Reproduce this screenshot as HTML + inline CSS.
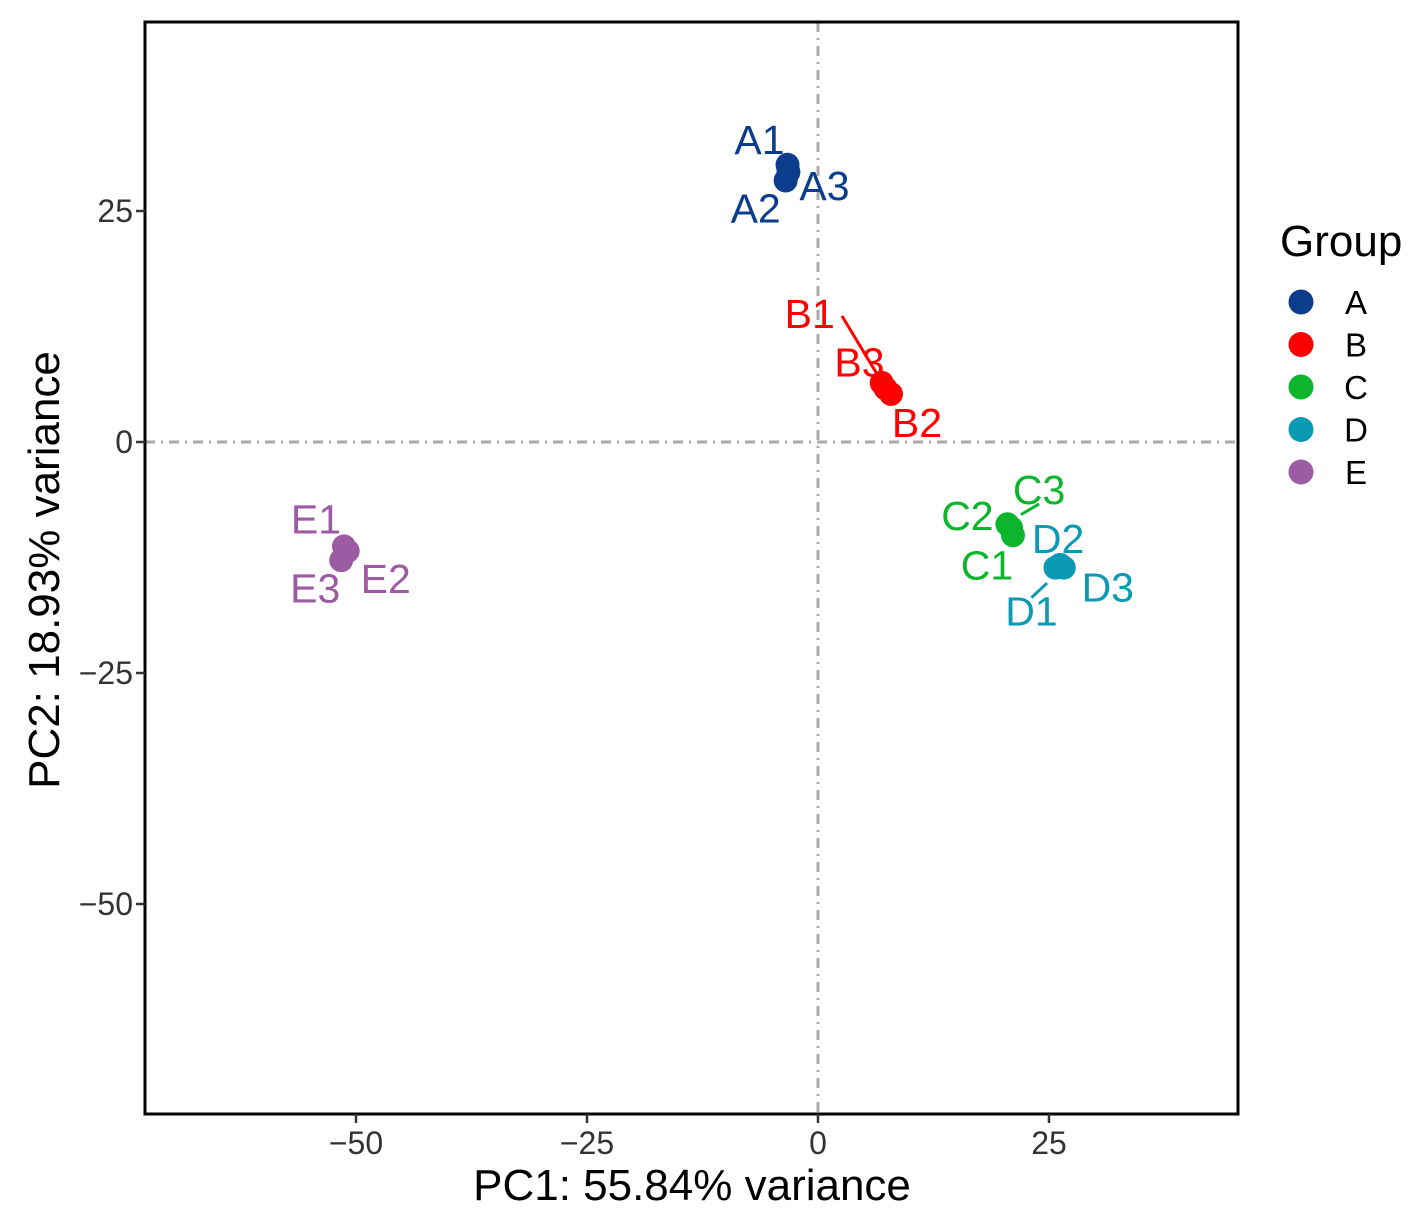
<!DOCTYPE html>
<html><head><meta charset="utf-8"><style>
body{margin:0;background:#fff}
svg{display:block;font-family:"Liberation Sans",Arial,sans-serif}
</style></head><body>
<svg id="chart" width="1422" height="1230" viewBox="0 0 1422 1230">
<rect x="0" y="0" width="1422" height="1230" fill="#fff"/>
<g id="plot"></g>
</svg>
<script>
const sampleNames=["A1","A2","A3","B1","B2","B3","C1","C2","C3","D1","D2","D3","E1","E2","E3"];
const sampleGroups=["A","A","A","B","B","B","C","C","C","D","D","D","E","E","E"];
const pc1Values=[-3.3,-3.5,-3.2,6.9,7.9,7.3,21.1,20.5,20.9,25.7,26.2,26.6,-51.3,-50.9,-51.6];
const pc2Values=[30.0,28.3,29.2,6.4,5.2,5.8,-10.1,-8.9,-9.3,-13.6,-13.3,-13.6,-11.3,-11.8,-12.8];
const groups=["A","B","C","D","E"];
const groupColors=["#0b3d8c","#ff0000","#0cb52c","#0a9ab4","#9d5ba3"];
const xTicks=[-50,-25,0,25];
const yTicks=[25,0,-25,-50];
const labelOffsets=[[-28,-25,0],[-30,28,0],[36,14,0],[-72,-69,1],[26,29,0],[-26,-26,0],[-26,30,0],[-40,-8,0],[28,-38,1],[-24,44,1],[-2,-26,0],[44,20,0],[-28,-27,0],[38,28,0],[-26,28,0]];
const L=145,T=22,R=1238,B=1114;
const X=v=>818+v*9.24, Y=v=>442-v*9.24;
const NS="http://www.w3.org/2000/svg";
const g=document.getElementById('plot');
function mk(tag,attrs,parent){const e=document.createElementNS(NS,tag);for(const k in attrs)e.setAttribute(k,attrs[k]);(parent||g).appendChild(e);return e;}
let e=mk('line',{x1:X(0),x2:X(0),y1:T,y2:B,stroke:'#aaa','stroke-width':3,'stroke-dasharray':'10 6 2 6'});


e=mk('line',{x1:L,x2:R,y1:Y(0),y2:Y(0),stroke:'#aaa','stroke-width':3,'stroke-dasharray':'10 6 2 6'});


pc1Values.forEach((v,i)=>{
  const c=groupColors[groups.indexOf(sampleGroups[i])];
  const px=X(v),py=Y(pc2Values[i]);
  const p=mk('circle',{cx:px,cy:py,r:12,fill:c});
  
  
  const o=labelOffsets[i];
  const lx=px+o[0],ly=py+o[1];
  if(o[2]){
    const s=mk('line',{x1:px+o[0]*0.35,y1:py+o[1]*0.35,x2:lx,y2:ly+(o[1]<0?14:-14),stroke:c,'stroke-width':3});
    if(i===3){s.setAttribute('x1',px-3);s.setAttribute('y1',py-6);s.setAttribute('x2',842);s.setAttribute('y2',316);}
    
    
  }
  const t=mk('text',{x:lx,y:ly+14,'text-anchor':'middle','font-size':41,fill:c});
  t.textContent=sampleNames[i];
  
  
});
e=mk('rect',{x:L,y:T,width:R-L,height:B-T,fill:'none',stroke:'#000','stroke-width':3});


xTicks.forEach(v=>{
  const tk=mk('line',{x1:X(v),x2:X(v),y1:B,y2:B+9,stroke:'#333','stroke-width':2.5});
  
  
  const t=mk('text',{x:X(v),y:B+40,'text-anchor':'middle','font-size':32,fill:'#333'});
  t.textContent=v<0?'\u2212'+(-v):v;
  
  
});
yTicks.forEach(v=>{
  const tk=mk('line',{x1:L-9,x2:L,y1:Y(v),y2:Y(v),stroke:'#333','stroke-width':2.5});
  
  
  const t=mk('text',{x:L-12,y:Y(v)+11,'text-anchor':'end','font-size':32,fill:'#333'});
  t.textContent=v<0?'\u2212'+(-v):v;
  
  
});
e=mk('text',{x:692,y:1200,'text-anchor':'middle','font-size':44});
e.textContent='PC1: 55.84% variance';


e=mk('text',{x:0,y:0,'text-anchor':'middle','font-size':44,transform:'translate(59,570) rotate(-90)'});
e.textContent='PC2: 18.93% variance';


e=mk('text',{x:1280,y:256,'font-size':44});
e.textContent='Group';


groups.forEach((gr,i)=>{
  const y=302+i*42.5;
  const c=mk('circle',{cx:1301,cy:y,r:12.5,fill:groupColors[i]});
  
  
  const t=mk('text',{x:1356,y:y+12,'text-anchor':'middle','font-size':33});
  t.textContent=gr;
  
  
});
</script>
</body></html>
